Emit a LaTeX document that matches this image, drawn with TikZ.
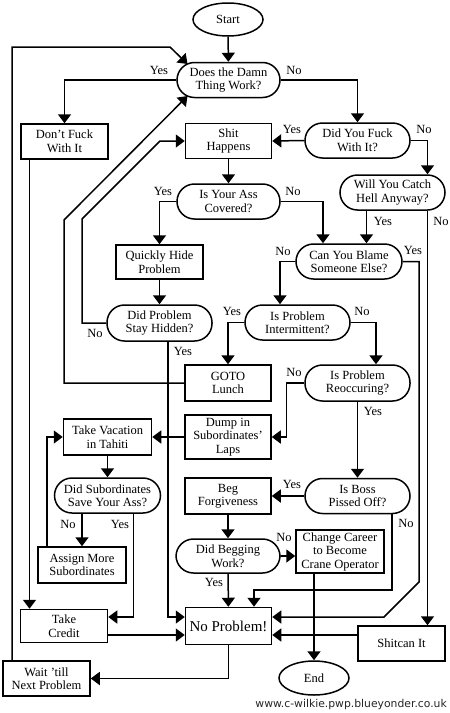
\documentclass[tikz,border=0pt]{standalone}
\usepackage{fontspec}
\setmainfont{Liberation Serif}
\newfontfamily\sitefont{DejaVu Sans}
\usetikzlibrary{shapes.geometric, arrows.meta, positioning}

\begin{document}
\begin{tikzpicture}[x=1pt, y=1pt,
  startstop/.style={ellipse, minimum width=70pt, minimum height=33pt, inner sep=0pt, text centered, draw=black, line width=1.5pt, font=\fontsize{12.5}{13.5}\selectfont},
  process/.style={rectangle, minimum width=86pt, minimum height=35pt, inner sep=0pt, text centered, align=center, draw=black, line width=1.5pt, font=\fontsize{12.5}{13.5}\selectfont},
  decision/.style={rectangle, rounded corners=17.5pt, minimum width=105pt, minimum height=35pt, inner sep=0pt, text centered, align=center, draw=black, line width=1.5pt, font=\fontsize{12.5}{13.5}\selectfont},
  answer/.style={inner sep=0pt, font=\fontsize{12.5}{13.5}\selectfont},
  arrow/.style={line width=1.5pt, -{Triangle[width=13pt,length=9pt]}}]

  \fill [white] (0,0) rectangle (450,-713);
  \useasboundingbox (0,0) rectangle (450,-713);

  % Nodes
  \node (start) [startstop] at (228,-19.5) {Start};
  \node (work) [decision, minimum width=103pt] at (228.5,-80) {Does the Damn \\ Thing Work?};
  \node (dontfuck) [process, minimum width=87pt] at (64.5,-141.5) {Don't Fuck \\ With It};
  \node (shit) [process] at (228.5,-141) {Shit \\ Happens};
  \node (didfuck) [decision] at (357.5,-140.5) {Did You Fuck \\ With It?};
  \node (covered) [decision, minimum width=103pt] at (228.5,-201.5) {Is Your Ass \\ Covered?};
  \node (catchhell) [decision] at (392.5,-192.5) {Will You Catch \\ Hell Anyway?};
  \node (hide) [process, minimum width=87pt, minimum height=34pt] at (159.5,-262) {Quickly Hide \\ Problem};
  \node (blame) [decision, minimum width=106pt] at (349,-261.5) {Can You Blame \\ Someone Else?};
  \node (hidden) [decision, minimum height=36pt] at (159.5,-323) {Did Problem \\ Stay Hidden?};
  \node (intermittent) [decision] at (297.5,-322.5) {Is Problem \\ Intermittent?};
  \node (lunch) [process, minimum height=36pt] at (228,-383) {GOTO \\ Lunch};
  \node (reoccur) [decision, minimum height=36pt] at (357.5,-383) {Is Problem \\ Reoccuring?};
  \node (tahiti) [process, minimum width=88pt, minimum height=36pt] at (107.5,-437) {Take Vacation \\ in Tahiti};
  \node (dump) [process, minimum height=44pt] at (228,-437) {Dump in \\ Subordinates' \\ Laps};
  \node (saveass) [decision, minimum width=106pt] at (107.5,-495.5) {Did Subordinates \\ Save Your Ass?};
  \node (beg) [process, minimum height=36pt] at (228,-496) {Beg \\ Forgiveness};
  \node (boss) [decision] at (357.5,-496) {Is Boss \\ Pissed Off?};
  \node (assign) [process, minimum width=88pt, minimum height=36pt] at (82,-565) {Assign More \\ Subordinates};
  \node (begwork) [decision, minimum width=104pt, minimum height=34pt] at (228,-556) {Did Begging \\ Work?};
  \node (career) [process, minimum width=88pt, minimum height=43pt] at (340,-551.5) {Change Career \\ to Become \\ Crane Operator};
  \node (credit) [process, minimum width=87pt, minimum height=33pt] at (64,-626) {Take \\ Credit};
  \node (noproblem) [process, minimum height=37pt, font=\fontsize{15}{16}\selectfont] at (228.5,-626) {No Problem!};
  \node (shitcan) [process, minimum width=87pt] at (401.5,-643.5) {Shitcan It};
  \node (endnode) [startstop, minimum height=34pt] at (314,-678) {End};
  \node (wait) [process, minimum width=87pt] at (46.5,-678.5) {Wait 'till \\ Next Problem};
  \node (site) [anchor=east, inner sep=0pt, text=black!85, font=\sitefont\fontsize{10.8}{12}\selectfont] at (447,-704.5) {www.c-wilkie.pwp.blueyonder.co.uk};

  % Answers
  \node (workyes) [answer] at (159,-70) {Yes};
  \node (workno) [answer] at (294,-70) {No};
  \node (didfuckyes) [answer] at (292,-129) {Yes};
  \node (didfuckno) [answer] at (424,-129) {No};
  \node (coveredyes) [answer] at (163,-191) {Yes};
  \node (coveredno) [answer] at (293,-191) {No};
  \node (catchhellyes) [answer] at (383,-221) {Yes};
  \node (catchhellno) [answer] at (441,-221) {No};
  \node (blameno) [answer] at (283,-251) {No};
  \node (blameyes) [answer] at (413,-250) {Yes};
  \node (intermittentyes) [answer] at (232,-311) {Yes};
  \node (intermittentno) [answer] at (362,-311) {No};
  \node (hiddenno) [answer] at (95,-333) {No};
  \node (hiddenyes) [answer] at (183,-351) {Yes};
  \node (reoccurno) [answer] at (294,-372) {No};
  \node (reoccuryes) [answer] at (373,-411) {Yes};
  \node (bossyes) [answer] at (292,-484) {Yes};
  \node (saveassno) [answer] at (68,-524) {No};
  \node (saveassyes) [answer] at (120,-524) {Yes};
  \node (begworkno) [answer] at (284,-537) {No};
  \node (begworkyes) [answer] at (214,-582) {Yes};
  \node (bossno) [answer] at (406,-523) {No};

  % Bends
  \coordinate (blamebend) at (419,-582);
  \coordinate (blamefoot) at (384,-617);
  \coordinate (hidebend) at (82,-219);
  \coordinate (hidetop) at (160,-141);
  \coordinate (lunchbend) at (64,-220);
  \coordinate (bossbend) at (254,-590);
  \coordinate (waitbend) at (170,-47);

  % Arrows
  \draw [arrow] (start) -- (work);
  \draw [arrow] (work.west) -| (dontfuck.north);
  \draw [arrow] (work.east) -| (didfuck.north);
  \draw [arrow] (didfuck.west) -- (shit.east);
  \draw [arrow] (didfuck.east) -| ([xshift=35pt]catchhell.north);
  \draw [arrow] (shit) -- (covered);
  \draw [arrow] (covered.west) -| (hide.north);
  \draw [arrow] (covered.east) -| ([xshift=-26pt]blame.north);
  \draw [arrow] ([xshift=-26pt]catchhell.south) -- ([xshift=-26pt]catchhell.south |- blame.north);
  \draw [arrow] ([xshift=35pt]catchhell.south) -- ([xshift=35pt]catchhell.south |- shitcan.north);

  \draw [arrow] (blame.east) -| (blamebend) -- (blamefoot) -- ([yshift=9pt]noproblem.east);
  \draw [arrow] (blame.west) -| ([xshift=-17.5pt]intermittent.north);
  \draw [arrow] (hide) -- (hidden);
  \draw [arrow] (hidden.west) -| (hidebend) -- (hidetop) -- (shit.west);
  \draw [arrow] ([xshift=8.5pt]hidden.south) |- ([yshift=9pt]noproblem.west);
  \draw [arrow] (intermittent.west) -| (lunch.north);
  \draw [arrow] (intermittent.east) -| ([xshift=18.5pt]reoccur.north);
  \draw [arrow] (lunch.west) -| (lunchbend) -- ([shift={(-41pt,-16pt)}]work.center);

  \draw [arrow] (reoccur.west) -- ++(-18pt,0) |- (dump.east);
  \draw [arrow] (reoccur) -- (boss);
  \draw [arrow] (dump) -- (tahiti);
  \draw [arrow] (tahiti) -- (saveass);
  \draw [arrow] ([xshift=-25.5pt]saveass.south) -- (assign.north);
  \draw [arrow] ([xshift=26pt]saveass.south) |- ([yshift=9pt]credit.east);
  \draw [arrow] ([xshift=-35pt]assign.north) |- (tahiti.west);
  \draw [arrow] ([xshift=-35pt]dontfuck.south) -- ([xshift=-35pt]dontfuck.south |- credit.north);

  \draw [arrow] (boss.west) -- (beg.east);
  \draw [arrow] (beg) -- (begwork);
  \draw [arrow] (begwork.east) -- (begwork.east -| career.west);
  \draw [arrow] (begwork) -- (noproblem);
  \draw [arrow] ([xshift=34.5pt]boss.south) |- (bossbend) -- (bossbend |- noproblem.north);
  \draw [arrow] (career.south -| endnode.north) -- (endnode.north);

  \draw [arrow] ([yshift=-9pt]credit.east) -- ([yshift=-9pt]noproblem.west);
  \draw [arrow] ([yshift=8.5pt]shitcan.west) -- ([yshift=-9pt]noproblem.east);
  \draw [arrow] (noproblem.south) |- (wait.east);
  \draw [arrow] ([xshift=-34.5pt]wait.north) |- (waitbend) -- ([shift={(-41pt,16pt)}]work.center);

\end{tikzpicture}
\end{document}
